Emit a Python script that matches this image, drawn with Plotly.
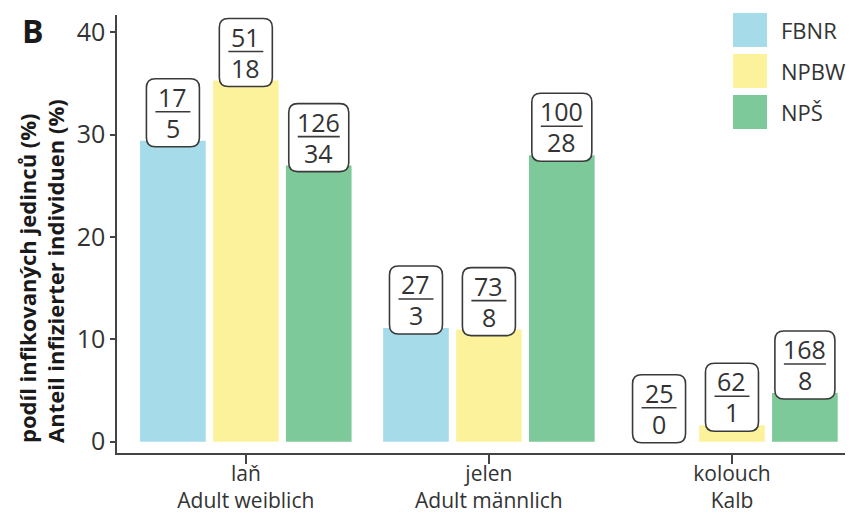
import plotly.graph_objects as go

# ---- data ----
categories = ["laň<br>Adult weiblich", "jelen<br>Adult männlich", "kolouch<br>Kalb"]
series_names = ["FBNR", "NPBW", "NPŠ"]
totals = {
    "FBNR": [17, 27, 25],
    "NPBW": [51, 73, 62],
    "NPŠ": [126, 100, 168],
}
infected = {
    "FBNR": [5, 3, 0],
    "NPBW": [18, 8, 1],
    "NPŠ": [34, 28, 8],
}
colors = {"FBNR": "#a6dbea", "NPBW": "#fcf29c", "NPŠ": "#7ec999"}

# ---- layout geometry ----
W, H = 851, 517
ML, MR, MT, MB = 117, 6, 15, 64
PW, PH = W - ML - MR, H - MT - MB
YR = [-1.1, 41.7]
XR = [-0.53, 2.465]
BARGAP, GROUPGAP = 0.1, 0.1
ppu = PH / (YR[1] - YR[0])
FONT = "Open Sans"
TXT = "#333333"

def px2paper_x(px):
    return (px - ML) / PW

def px2paper_y(py):
    return (H - MB - py) / PH

fig = go.Figure()
xs = list(range(len(categories)))
for name in series_names:
    vals = [100.0 * i / t for i, t in zip(infected[name], totals[name])]
    fig.add_trace(go.Bar(x=xs, y=vals, name=name, marker_color=colors[name],
                         marker_line_width=0, showlegend=False))

shapes = []
annotations = []
slot = (1 - BARGAP) / len(series_names)
for si, name in enumerate(series_names):
    for ci in xs:
        t, inf = totals[name][ci], infected[name][ci]
        v = 100.0 * inf / t
        cx = ci + (si - (len(series_names) - 1) / 2) * slot
        nchar = max(len(str(t)), len(str(inf)))
        w = 53 if nchar <= 2 else 60
        h = 68
        r = 9
        b = -min(6, v * ppu + 1)
        x0, x1 = -w / 2, w / 2
        y0, y1 = b, b + h
        path = (f"M{x0+r},{y0} L{x1-r},{y0} Q{x1},{y0} {x1},{y0+r} "
                f"L{x1},{y1-r} Q{x1},{y1} {x1-r},{y1} L{x0+r},{y1} "
                f"Q{x0},{y1} {x0},{y1-r} L{x0},{y0+r} Q{x0},{y0} {x0+r},{y0} Z")
        shapes.append(dict(type="path", path=path, xref="x", yref="y",
                           xsizemode="pixel", ysizemode="pixel",
                           xanchor=cx, yanchor=v,
                           line=dict(color="#3a3a3a", width=1.6),
                           fillcolor="white", layer="above"))
        lw = (w - 18) / 2
        ly = b + 35
        shapes.append(dict(type="line", xref="x", yref="y",
                           xsizemode="pixel", ysizemode="pixel",
                           xanchor=cx, yanchor=v,
                           x0=-lw, x1=lw, y0=ly, y1=ly,
                           line=dict(color="#3a3a3a", width=1.6), layer="above"))
        annotations.append(dict(x=cx, y=v, xref="x", yref="y", text=str(t),
                                showarrow=False, yanchor="middle", yshift=b + 50,
                                font=dict(family=FONT, size=25, color=TXT)))
        annotations.append(dict(x=cx, y=v, xref="x", yref="y", text=str(inf),
                                showarrow=False, yanchor="middle", yshift=b + 19,
                                font=dict(family=FONT, size=25, color=TXT)))

# custom legend
leg_rows = [30, 71, 112]
for name, cy in zip(series_names, leg_rows):
    shapes.append(dict(type="rect", xref="paper", yref="paper",
                       x0=px2paper_x(733), x1=px2paper_x(767),
                       y0=px2paper_y(cy + 17), y1=px2paper_y(cy - 17),
                       fillcolor=colors[name], line_width=0))
    annotations.append(dict(xref="paper", yref="paper", x=px2paper_x(779),
                            y=px2paper_y(cy), text=name, showarrow=False,
                            xanchor="left", yanchor="middle",
                            font=dict(family=FONT, size=22, color=TXT)))

# y-axis title (two lines, bottom aligned)
for text, cx in [("podíl infikovaných jedinců (%)", 27), ("Anteil infizierter individuen (%)", 55)]:
    annotations.append(dict(xref="paper", yref="paper", x=px2paper_x(cx),
                            y=px2paper_y(445), text=f"<b>{text}</b>", textangle=-90,
                            showarrow=False, xanchor="center", yanchor="bottom",
                            font=dict(family=FONT, size=22, color="#1a1a1a")))

# panel letter
annotations.append(dict(xref="paper", yref="paper", x=px2paper_x(33), y=px2paper_y(30),
                        text="<b>B</b>", showarrow=False, xanchor="center", yanchor="middle",
                        font=dict(family=FONT, size=32, color="#1a1a1a")))

fig.update_layout(
    width=W, height=H,
    margin=dict(l=ML, r=MR, t=MT, b=MB, autoexpand=False),
    paper_bgcolor="white", plot_bgcolor="white",
    barmode="group", bargap=BARGAP, bargroupgap=GROUPGAP,
    showlegend=False,
    shapes=shapes, annotations=annotations,
    xaxis=dict(range=XR, tickvals=xs, ticktext=categories, showgrid=False,
               automargin=False, ticklabelstandoff=-8,
               zeroline=False, showline=True, linecolor="#444444", linewidth=1.5,
               ticks="outside", ticklen=9, tickwidth=1.5, tickcolor="#444444",
               tickfont=dict(family=FONT, size=21, color=TXT)),
    yaxis=dict(range=YR, tickvals=[0, 10, 20, 30, 40], showgrid=False,
               automargin=False,
               zeroline=False, showline=True, linecolor="#444444", linewidth=1.5,
               ticks="outside", ticklen=5, tickwidth=1.5, tickcolor="#444444",
               tickfont=dict(family=FONT, size=25, color=TXT)),
)

fig.write_html("out.html")
